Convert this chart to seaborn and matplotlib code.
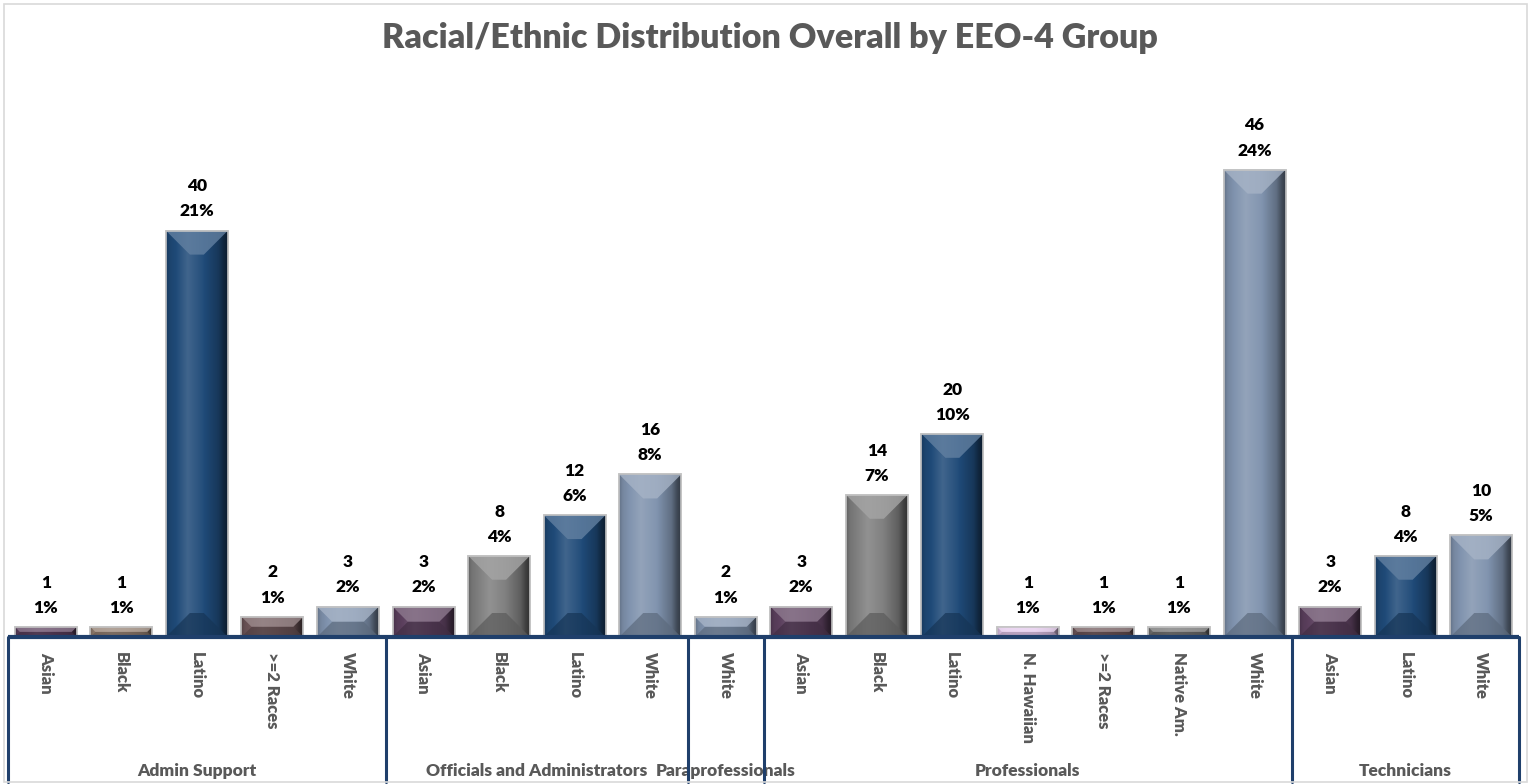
import numpy as np
import pandas as pd
import matplotlib
matplotlib.use("Agg")
import matplotlib.pyplot as plt
from matplotlib.patches import Polygon, Rectangle
from matplotlib.colors import to_rgb
import seaborn as sns

# ---- data -------------------------------------------------------------
groups = ["Admin Support", "Officials and Administrators", "Paraprofessionals",
          "Professionals", "Technicians"]
group_races = [
    ["Asian", "Black", "Latino", ">=2 Races", "White"],
    ["Asian", "Black", "Latino", "White"],
    ["White"],
    ["Asian", "Black", "Latino", "N. Hawaiian", ">=2 Races", "Native Am.", "White"],
    ["Asian", "Latino", "White"],
]
group_counts = [
    [1, 1, 40, 2, 3],
    [3, 8, 12, 16],
    [2],
    [3, 14, 20, 1, 1, 1, 46],
    [3, 8, 10],
]
bar_colors = [
    ["#5C405E", "#948072", "#1F4A78", "#6E5659", "#8093AE"],
    ["#5C405E", "#7E7E7E", "#1F4A78", "#8093AE"],
    ["#8093AE"],
    ["#5C405E", "#7E7E7E", "#1F4A78", "#E4C8EC", "#6E5659", "#727272", "#8093AE"],
    ["#5C405E", "#1F4A78", "#8093AE"],
]

rows = []
for g, races, counts, cols in zip(groups, group_races, group_counts, bar_colors):
    for r, c, col in zip(races, counts, cols):
        rows.append({"group": g, "race": r, "count": c, "color": col,
                     "slot": f"{g}|{r}"})
df = pd.DataFrame(rows)
total = df["count"].sum()
df["pct"] = [f"{round(c / total * 100):.0f}%" for c in df["count"]]

# ---- figure -----------------------------------------------------------
W, H = 1530, 784
fig = plt.figure(figsize=(W / 100, H / 100), dpi=100)
fig.patch.set_facecolor("white")
sns.set_style("white")
plt.rcParams["font.family"] = ["Lato", "DejaVu Sans"]

ax_l, ax_r, ax_b, ax_t = 8, 1519, 637, 129
ax = fig.add_axes([ax_l / W, (H - ax_b) / H, (ax_r - ax_l) / W, (ax_b - ax_t) / H])

palette = dict(zip(df["slot"], df["color"]))
sns.barplot(data=df, x="slot", y="count", hue="slot", palette=palette,
            order=list(df["slot"]), width=0.82, legend=False, ax=ax,
            saturation=1, edgecolor="#C4C4C4", linewidth=1.2)

n = len(df)
ax.set_xlim(-0.5, n - 0.5)
ax.set_ylim(0, 50)
for s in ax.spines.values():
    s.set_visible(False)
ax.set_yticks([])
ax.set_ylabel("")
ax.set_xlabel("")

# pixel -> data conversion
p0 = ax.transData.transform((0, 0))
p1 = ax.transData.transform((1, 1))
px_x = p1[0] - p0[0]
px_y = p1[1] - p0[1]


def shade(rgb, f):
    rgb = np.array(rgb)
    if f >= 1:
        return tuple(rgb + (1 - rgb) * (f - 1))
    return tuple(rgb * f)


# bevelled look for each bar
bars = [p for p in ax.patches if isinstance(p, Rectangle) and p.get_height() > 0]
for bar, col in zip(bars, df["color"]):
    x0, w, h = bar.get_x(), bar.get_width(), bar.get_height()
    base = to_rgb(col)
    z = bar.get_zorder()
    # horizontal gradient across the face
    t = np.linspace(0, 1, 96)
    prof = np.interp(t, [0, 0.06, 0.35, 0.6, 0.85, 0.94, 1.0],
                     [0.78, 0.92, 1.15, 1.02, 0.75, 0.5, 0.4])
    img = np.array([[shade(base, f) for f in prof]])
    im = ax.imshow(img, extent=(x0, x0 + w, 0, h), aspect="auto",
                   interpolation="bicubic", zorder=z + 0.1)
    im.set_clip_path(bar)
    # 45 degree bevels at top and bottom
    d_px = min(24, h * px_y / 2, w * px_x / 2)
    dx, dy = d_px / px_x, d_px / px_y
    top = Polygon([(x0, h), (x0 + w, h), (x0 + w - dx, h - dy), (x0 + dx, h - dy)],
                  closed=True, facecolor=shade(base, 1.3), edgecolor="none",
                  alpha=0.8, zorder=z + 0.2)
    bot = Polygon([(x0, 0), (x0 + w, 0), (x0 + w - dx, dy), (x0 + dx, dy)],
                  closed=True, facecolor=shade(base, 0.72), edgecolor="none",
                  alpha=0.7, zorder=z + 0.2)
    ax.add_patch(top)
    ax.add_patch(bot)
    ax.add_patch(Rectangle((x0, 0), w, h, facecolor="none", edgecolor="#C4C4C4",
                           linewidth=1.2, zorder=z + 0.3))

# value labels: count and share
for i, (c, p) in enumerate(zip(df["count"], df["pct"])):
    ax.annotate(f"{c}\n{p}", (i, c), xytext=(0, 8), textcoords="offset points",
                ha="center", va="bottom", fontsize=12.5, fontweight="heavy",
                color="black", linespacing=1.7, annotation_clip=False)

# category tick labels
ax.set_xticks(range(n))
ax.set_xticklabels(df["race"], rotation=-90, fontsize=12, fontweight="heavy",
                   color="#595959")
ax.tick_params(axis="x", length=0, pad=11)
for lab in ax.get_xticklabels():
    lab.set_verticalalignment("top")
    lab.set_horizontalalignment("center")

# group axis: baseline, separators, group names
navy = "#1F3F6B"
ax.plot([-0.5, n - 0.5], [0, 0], color=navy, lw=3, clip_on=False,
        solid_capstyle="butt", zorder=5)
sep_y = -(782 - ax_b) / px_y
bounds = np.cumsum([0] + [len(r) for r in group_races]) - 0.5
for b in bounds:
    ax.plot([b, b], [0, sep_y], color=navy, lw=2.2, clip_on=False, zorder=5)
lab_y = -(771 - ax_b) / px_y
for g, a, b in zip(groups, bounds[:-1], bounds[1:]):
    ax.text((a + b) / 2, lab_y, g, ha="center", va="center", fontsize=12.5,
            fontweight="heavy", color="#595959", clip_on=False)

# title
fig.text(770 / W, 1 - 38 / H, "Racial/Ethnic Distribution Overall by EEO-4 Group",
         ha="center", va="center", fontsize=24.5, fontweight="heavy", color="#595959")

# chart border
fig.patches.append(Rectangle((4 / W, 2 / H), 1523 / W, 778 / H, transform=fig.transFigure,
                             facecolor="none", edgecolor="#D9D9D9", lw=1.2))

fig.savefig("out.png", dpi=100, facecolor="white")
